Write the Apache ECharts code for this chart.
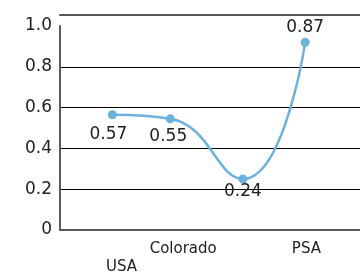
<!DOCTYPE html>
<html>
<head>
<meta charset="utf-8">
<script src="https://cdn.jsdelivr.net/npm/echarts@6/dist/echarts.min.js"></script>
<style>
  html, body { margin: 0; padding: 0; background: #fff; }
  #chart { width: 360px; height: 277px; }
</style>
</head>
<body>
<div id="chart"></div>
<script>
// category names shown under the axis (third one has no label in the original)
var categories = ['USA', 'Colorado', '', 'PSA'];
// where each point sits along the x scale (category index units)
var pointX = [-0.15, 0.79, 1.97, 2.98];
// plotted values
var values = [0.565, 0.545, 0.25, 0.92];
// value labels printed next to the points
var valueLabels = ['0.57', '0.55', '0.24', '0.87'];
var yTicks = [0, 0.2, 0.4, 0.6, 0.8, 1.0];

// label placement for each point (style only)
var labelPlace = [
    { position: 'bottom', distance: 7, offset: [-4, 0] },
    { position: 'bottom', distance: 5, offset: [-2, 0] },
    { position: 'bottom', distance: 0, offset: [0, 0] },
    { position: 'top', distance: 2, offset: [0, 0] }
];

var chart = echarts.init(document.getElementById('chart'));

var seriesData = values.map(function (v, i) {
    return {
        value: [pointX[i], v],
        label: {
            show: true,
            position: labelPlace[i].position,
            distance: labelPlace[i].distance,
            offset: labelPlace[i].offset,
            formatter: valueLabels[i]
        }
    };
});

var option = {
    animation: false,
    textStyle: { fontFamily: 'DejaVu Sans' },
    grid: { left: 60, right: 0, top: 26, bottom: 47 },
    xAxis: [
        {
            type: 'value',
            position: 'bottom',
            min: -1,
            max: 3.87,
            interval: 1,
            axisLine: { show: true, lineStyle: { color: '#595959', width: 2 } },
            axisTick: { show: false },
            splitLine: { show: false },
            axisLabel: {
                fontSize: 15,
                color: '#222',
                margin: 10,
                lineHeight: 18,
                showMinLabel: false,
                showMaxLabel: false,
                formatter: function (val) {
                    var name = categories[Math.round(val)] || '';
                    return Math.round(val) === 0 ? '\n' + name : name;
                }
            }
        },
        {
            type: 'value',
            position: 'top',
            offset: 11,
            min: -1,
            max: 3.87,
            axisLine: { show: true, lineStyle: { color: '#595959', width: 2 } },
            axisTick: { show: false },
            axisLabel: { show: false },
            splitLine: { show: false }
        }
    ],
    yAxis: {
        type: 'value',
        min: yTicks[0],
        max: yTicks[yTicks.length - 1],
        interval: 0.2,
        axisLine: { show: true, onZero: false, lineStyle: { color: '#595959', width: 2 } },
        axisTick: { show: false },
        axisLabel: {
            fontSize: 17,
            color: '#222',
            margin: 8,
            formatter: function (v) {
                return v === 0 ? '0' : v.toFixed(1);
            }
        },
        splitLine: {
            show: true,
            showMinLine: false,
            showMaxLine: false,
            lineStyle: { color: '#000', width: 1 }
        }
    },
    series: [
        {
            type: 'line',
            xAxisIndex: 0,
            smooth: 0.5,
            symbol: 'circle',
            symbolSize: 9,
            lineStyle: { color: '#6cb2dc', width: 2.5 },
            itemStyle: { color: '#6cb2dc' },
            label: { fontSize: 17, color: '#222' },
            data: seriesData
        }
    ]
};

chart.setOption(option);
</script>
</body>
</html>
